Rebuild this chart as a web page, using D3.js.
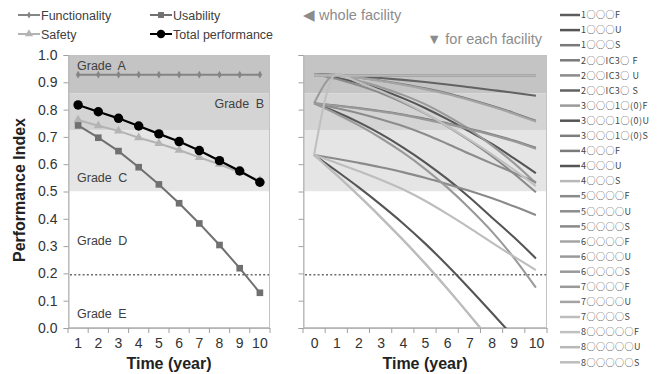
<!DOCTYPE html>
<html><head><meta charset="utf-8">
<script src="https://cdn.jsdelivr.net/npm/d3@7"></script>
<style>
html,body{margin:0;padding:0;background:#fff;}
svg text{font-family:"Liberation Sans",Arial,sans-serif;}
</style></head>
<body><svg id="c" width="658" height="374"></svg>
<script>
// ---------- data ----------
const years = [1,2,3,4,5,6,7,8,9,10];
const functionality = [0.928,0.928,0.928,0.928,0.928,0.928,0.928,0.928,0.928,0.928];
const usability = [0.742,0.697,0.648,0.589,0.526,0.457,0.383,0.304,0.219,0.129];
const safety = [0.762,0.741,0.722,0.697,0.676,0.652,0.625,0.600,0.570,0.540];
const totalPerformance = [0.817,0.792,0.768,0.740,0.711,0.683,0.650,0.613,0.575,0.534];
const yTickLabels = ["0.0","0.1","0.2","0.3","0.4","0.5","0.6","0.7","0.8","0.9","1.0"];
const gradeNames = ["Grade A","Grade B","Grade C","Grade D","Grade E"];
const gradeBounds = [1.0,0.86,0.725,0.5,0.195,0.0];
const limitLine = 0.195;
const legendNames = ["Functionality","Usability","Safety","Total performance"];

const facilityYears = [0,1,2,3,4,5,6,7,8,9,10];
const f1F = [0.925,0.925,0.925,0.925,0.925,0.925,0.925,0.925,0.925,0.925,0.925];
const f1U = [0.93,0.917,0.898,0.873,0.842,0.806,0.765,0.72,0.675,0.622,0.567];
const f1S = [0.93,0.925,0.918,0.906,0.893,0.878,0.86,0.838,0.814,0.788,0.759];
const f2F = [0.925,0.925,0.925,0.925,0.925,0.925,0.925,0.925,0.925,0.925,0.925];
const f2U = [0.93,0.913,0.889,0.861,0.826,0.786,0.739,0.687,0.63,0.566,0.497];
const f2S = [0.93,0.927,0.922,0.916,0.909,0.901,0.892,0.882,0.872,0.862,0.851];
const f3F = [0.823,0.93,0.906,0.882,0.854,0.82,0.777,0.728,0.67,0.605,0.53];
const f3U = [0.823,0.791,0.754,0.711,0.662,0.607,0.546,0.479,0.406,0.333,0.255];
const f3S = [0.823,0.815,0.806,0.795,0.782,0.766,0.75,0.73,0.71,0.687,0.66];
const f4F = [0.925,0.925,0.925,0.925,0.925,0.925,0.925,0.925,0.925,0.925,0.925];
const f4U = [0.634,0.576,0.516,0.452,0.384,0.31,0.23,0.145,0.057,-0.033,-0.125];
const f4S = [0.634,0.561,0.485,0.406,0.323,0.236,0.144,0.048,-0.05,-0.15,-0.25];
const f5F = [0.925,0.925,0.925,0.925,0.925,0.925,0.925,0.925,0.925,0.925,0.925];
const f5U = [0.823,0.806,0.787,0.765,0.74,0.71,0.675,0.638,0.603,0.569,0.534];
const f5S = [0.634,0.62,0.605,0.589,0.571,0.55,0.527,0.503,0.476,0.446,0.414];
const f6F = [0.925,0.925,0.925,0.925,0.925,0.925,0.925,0.925,0.925,0.925,0.925];
const f6U = [0.823,0.785,0.743,0.696,0.643,0.583,0.515,0.439,0.355,0.258,0.148];
const f6S = [0.823,0.814,0.804,0.793,0.78,0.764,0.747,0.728,0.707,0.684,0.657];
const f7F = [0.925,0.925,0.925,0.925,0.925,0.925,0.925,0.925,0.925,0.925,0.925];
const f7U = [0.93,0.925,0.917,0.905,0.891,0.875,0.857,0.835,0.811,0.785,0.756];
const f7S = [0.634,0.605,0.575,0.543,0.508,0.466,0.418,0.367,0.314,0.262,0.212];
const f8F = [0.634,0.93,0.9,0.868,0.83,0.787,0.74,0.69,0.637,0.58,0.52];
const f8U = [0.925,0.925,0.925,0.925,0.925,0.925,0.925,0.925,0.925,0.925,0.925];
const f8S = [0.634,0.562,0.486,0.407,0.324,0.237,0.145,0.049,-0.049,-0.149,-0.249];
const facilityLabels = ["1○○○F","1○○○U","1○○○S","2○○IC3○ F","2○○IC3○ U","2○○IC3○ S",
  "3○○○1○(0)F","3○○○1○(0)U","3○○○1○(0)S","4○○○F","4○○○U","4○○○S",
  "5○○○○F","5○○○○U","5○○○○S","6○○○○F","6○○○○U","6○○○○S",
  "7○○○○F","7○○○○U","7○○○○S","8○○○○○F","8○○○○○U","8○○○○○S"];
const facilitySeries = [f1F,f1U,f1S,f2F,f2U,f2S,f3F,f3U,f3S,f4F,f4U,f4S,f5F,f5U,f5S,f6F,f6U,f6S,f7F,f7U,f7S,f8F,f8U,f8S];

// ---------- styles ----------
const facilityColors = ["#5c5c5c","#555555","#7a7a7a","#7a7a7a","#8a8a8a","#626262",
  "#9a9a9a","#555555","#7e7e7e","#7a7a7a","#555555","#b8b8b8",
  "#8a8a8a","#8c8c8c","#8a8a8a","#a5a5a5","#9a9a9a","#999999",
  "#9a9a9a","#a4a4a4","#bdbdbd","#c0c0c0","#b8b8b8","#bdbdbd"];
const bandColors = ["#c4c4c4","#d4d4d4","#e5e5e5","#ffffff","#ffffff"];

const svg = d3.select("#c");
const plotTop = 55, plotBottom = 328;
const y = d3.scaleLinear().domain([0,1]).range([plotBottom, plotTop]);
const xL = d3.scaleBand().domain(years).range([68,270]);
const xR = d3.scaleLinear().domain([-0.5,10.5]).range([303,547]);

function panel(x0, x1, withLabels){
  const g = svg.append("g");
  for(let i=0;i<5;i++){
    g.append("rect").attr("x",x0).attr("width",x1-x0)
     .attr("y",y(gradeBounds[i])).attr("height",y(gradeBounds[i+1])-y(gradeBounds[i]))
     .attr("fill",bandColors[i]);
  }
  g.append("rect").attr("x",x0+0.5).attr("y",plotTop+0.5).attr("width",x1-x0-1).attr("height",plotBottom-plotTop-1)
   .attr("fill","none").attr("stroke","#c3c3c3").attr("stroke-width",1);
  const ya = d3.axisLeft(y).tickValues(d3.range(11).map(i=>i/10)).tickSize(5).tickPadding(6)
    .tickFormat((d,i)=> withLabels ? yTickLabels[i] : "");
  const ag = g.append("g").attr("transform",`translate(${x0+0.5},0)`).call(ya);
  ag.select(".domain").attr("stroke","#b5b5b5");
  ag.selectAll(".tick line").attr("stroke","#a0a0a0");
  ag.selectAll("text").attr("font-size",14).attr("fill","#333").attr("font-family","Liberation Sans, Arial, sans-serif");
  g.append("line").attr("x1",x0+2).attr("x2",x1-1).attr("y1",y(limitLine)).attr("y2",y(limitLine))
   .attr("stroke","#6a6a6a").attr("stroke-width",1.6).attr("stroke-dasharray","2,2.2");
  return g;
}

// ----- left panel -----
panel(68,270,true);
const xaL = d3.axisBottom(xL).tickSize(0).tickPadding(10);
const xgL = svg.append("g").attr("transform",`translate(0,${plotBottom})`).call(xaL);
xgL.select(".domain").attr("stroke","#b5b5b5");
xgL.selectAll("text").attr("font-size",14).attr("fill","#333").attr("font-family","Liberation Sans, Arial, sans-serif");
svg.append("g").selectAll("line").data(d3.range(11)).join("line")
  .attr("x1",i=>68+i*xL.step()).attr("x2",i=>68+i*xL.step()).attr("y1",plotBottom).attr("y2",plotBottom+5)
  .attr("stroke","#a0a0a0");

const gradeText = svg.append("g").attr("font-size",12.5).attr("fill","#404040").attr("word-spacing","3px");
gradeText.append("text").attr("x",77).attr("y",y(0.96)+4).text(gradeNames[0]);
gradeText.append("text").attr("x",264).attr("y",y(0.82)+4).attr("text-anchor","end").text(gradeNames[1]);
gradeText.append("text").attr("x",77).attr("y",y(0.55)+4).text(gradeNames[2]);
gradeText.append("text").attr("x",77).attr("y",y(0.32)+4).text(gradeNames[3]);
gradeText.append("text").attr("x",77).attr("y",y(0.05)+4).text(gradeNames[4]);

const cx = d => xL(d) + xL.bandwidth()/2;
const lineL = arr => d3.line().x((d,i)=>cx(years[i])).y(d=>y(d))(arr);
const leftSeries = [
  {v:functionality, c:"#858585", w:2, sym:d3.symbolDiamond, s:18},
  {v:safety, c:"#b3b3b3", w:2, sym:d3.symbolTriangle, s:36},
  {v:usability, c:"#707070", w:2, sym:d3.symbolSquare, s:44},
  {v:totalPerformance, c:"#000", w:2.2, sym:d3.symbolCircle, s:70}
];
leftSeries.forEach(s=>{
  svg.append("path").attr("d",lineL(s.v)).attr("fill","none").attr("stroke",s.c).attr("stroke-width",s.w);
  svg.append("g").selectAll("path").data(s.v).join("path")
    .attr("transform",(d,i)=>`translate(${cx(years[i])},${y(d)})`)
    .attr("d",d3.symbol().type(s.sym).size(s.s)).attr("fill",s.c);
});

const legPos = [[18,15],[150,15],[18,34],[150,34]];
const legStyle = [leftSeries[0],leftSeries[2],leftSeries[1],leftSeries[3]];
legPos.forEach((p,i)=>{
  const s = legStyle[i];
  svg.append("line").attr("x1",p[0]).attr("x2",p[0]+22).attr("y1",p[1]).attr("y2",p[1]).attr("stroke",s.c).attr("stroke-width",2);
  svg.append("path").attr("transform",`translate(${p[0]+11},${p[1]})`).attr("d",d3.symbol().type(s.sym).size(s.s*0.8)).attr("fill",s.c);
  svg.append("text").attr("x",p[0]+23).attr("y",p[1]+4.5).attr("font-size",12.5).attr("fill","#404040").text(legendNames[i]);
});

svg.append("text").attr("transform","translate(25,190) rotate(-90)").attr("text-anchor","middle")
  .attr("font-size",16).attr("font-weight","bold").attr("fill","#222").text("Performance Index");
svg.append("text").attr("x",169).attr("y",369).attr("text-anchor","middle")
  .attr("font-size",16).attr("font-weight","bold").attr("fill","#222").text("Time (year)");

// ----- right panel -----
panel(303,547,false);
const xaR = d3.axisBottom(xR).tickValues(facilityYears).tickSize(0).tickPadding(10);
const xgR = svg.append("g").attr("transform",`translate(0,${plotBottom})`).call(xaR);
xgR.select(".domain").attr("stroke","#b5b5b5");
xgR.selectAll("text").attr("font-size",14).attr("fill","#333").attr("font-family","Liberation Sans, Arial, sans-serif");
svg.append("g").selectAll("line").data(d3.range(12)).join("line")
  .attr("x1",i=>xR(i-0.5)).attr("x2",i=>xR(i-0.5)).attr("y1",plotBottom).attr("y2",plotBottom+5)
  .attr("stroke","#a0a0a0");
svg.append("text").attr("x",425).attr("y",369).attr("text-anchor","middle")
  .attr("font-size",16).attr("font-weight","bold").attr("fill","#222").text("Time (year)");

svg.append("clipPath").attr("id","clipR").append("rect").attr("x",303).attr("y",plotTop).attr("width",244).attr("height",plotBottom-plotTop);
const lineR = d3.line().x((d,i)=>xR(facilityYears[i])).y(d=>y(d)).curve(d3.curveMonotoneX);
svg.append("g").attr("clip-path","url(#clipR)").selectAll("path").data(facilitySeries).join("path")
  .attr("d",d=>lineR(d)).attr("fill","none").attr("stroke",(d,i)=>facilityColors[i]).attr("stroke-width",2.1);

svg.append("text").attr("x",303).attr("y",20).attr("font-size",14.5).attr("fill","#8c8c8c").text("◀ whole facility");
svg.append("text").attr("x",542).attr("y",44).attr("text-anchor","end").attr("font-size",14.5).attr("fill","#8c8c8c").text("▼ for each facility");

const lg = svg.append("g");
facilityLabels.forEach((t,i)=>{
  const yy = 15 + i*15.1;
  lg.append("line").attr("x1",560).attr("x2",580).attr("y1",yy).attr("y2",yy).attr("stroke",facilityColors[i]).attr("stroke-width",2.5);
  lg.append("text").attr("x",581).attr("y",yy+3.2).attr("font-size",9).attr("letter-spacing","0.5px").attr("fill","#444")
    .style("font-family","'Noto Sans CJK JP', sans-serif").text(t);
});
</script></body></html>
